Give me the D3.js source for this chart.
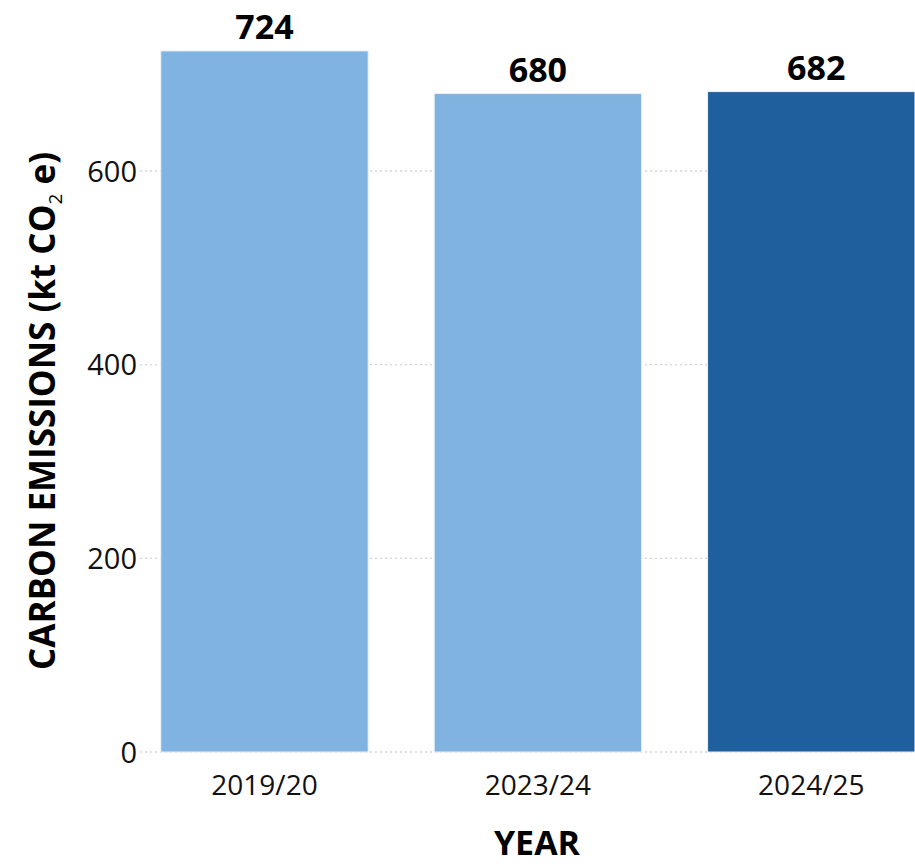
<!DOCTYPE html>
<html><head><meta charset="utf-8">
<script src="https://cdn.jsdelivr.net/npm/d3@7"></script>
<style>html,body{margin:0;padding:0;background:#fff;overflow:hidden}</style>
</head><body>
<svg id="chart" width="915" height="864"></svg>
<script>
const categories = ["2019/20", "2023/24", "2024/25"];
const values = [724, 680, 682];
const barColors = ["#80b3e0", "#80b3e0", "#1f5f9e"];
const yTicks = [0, 200, 400, 600];

const W = 915, H = 864;
const font = "'Open Sans', 'Noto Sans', sans-serif";
const svg = d3.select("#chart");

const x = d3.scaleBand().domain(categories).range([128, 947.75]).paddingInner(0.2415).paddingOuter(0.12);
const y = d3.scaleLinear().domain([0, 600]).range([752, 171]);

// gridlines
svg.append("g").selectAll("line").data(yTicks).join("line")
  .attr("x1", 140).attr("x2", W)
  .attr("y1", d => y(d)).attr("y2", d => y(d))
  .attr("stroke", "#d4d4d4").attr("stroke-width", 1.3).attr("stroke-dasharray", "2,3");

// bars
svg.append("g").selectAll("rect").data(values).join("rect")
  .attr("x", (d, i) => x(categories[i]))
  .attr("width", x.bandwidth())
  .attr("y", d => y(d))
  .attr("height", d => y(0) - y(d))
  .attr("fill", (d, i) => barColors[i])
  .attr("stroke", "#e8f0f8").attr("stroke-width", 1);

// value labels
svg.append("g").selectAll("text").data(values).join("text")
  .attr("x", (d, i) => x(categories[i]) + x.bandwidth() / 2 + (i === 2 ? 5 : 0))
  .attr("y", d => y(d) - 12)
  .attr("text-anchor", "middle")
  .attr("font-family", font).attr("font-weight", 700).attr("font-size", 34)
  .attr("fill", "#000")
  .text(d => d);

// y axis
const yAxis = d3.axisLeft(y).tickValues(yTicks).tickSize(0).tickPadding(0);
const gy = svg.append("g").attr("transform", "translate(137,0)").call(yAxis);
gy.select(".domain").remove();
gy.selectAll("text").attr("font-family", font).attr("font-size", 29).attr("fill", "#111").attr("dy", "0.35em");

// x axis
const xAxis = d3.axisBottom(x).tickSize(0).tickPadding(0);
const gx = svg.append("g").attr("transform", "translate(0,773)").call(xAxis);
gx.select(".domain").remove();
gx.selectAll("text").attr("font-family", font).attr("font-size", 28).attr("fill", "#111").attr("dy", "0.8em");

// axis titles
svg.append("text")
  .attr("x", 537).attr("y", 855)
  .attr("text-anchor", "middle")
  .attr("font-family", font).attr("font-weight", 700).attr("font-size", 34)
  .attr("fill", "#000")
  .text("YEAR");

const yt = svg.append("text")
  .attr("transform", "translate(55,411) rotate(-90)")
  .attr("text-anchor", "middle")
  .attr("font-family", font).attr("font-weight", 700).attr("font-size", 35)
  .attr("fill", "#000");
yt.append("tspan").text("CARBON EMISSIONS (kt CO");
yt.append("tspan").attr("font-size", 19).attr("font-weight", 400).attr("dy", 7).text("2");
yt.append("tspan").attr("dy", -7).text(" e)");
</script>
</body></html>
